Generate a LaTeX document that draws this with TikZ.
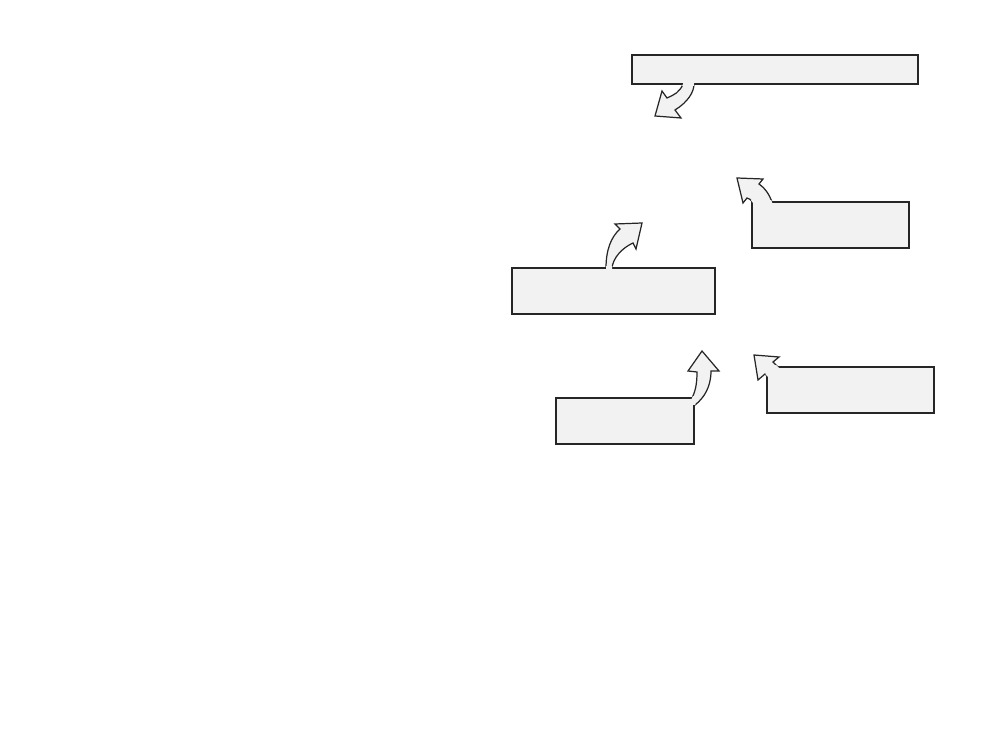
\documentclass[tikz,border=0pt]{standalone}
\usepackage{tikz}
\usetikzlibrary{positioning}

\tikzset{
  box/.style={draw=black!85, line width=0.7pt, fill=black!5, inner sep=0pt, minimum height=0.92cm},
  blkarrow/.style={draw=black!85, line width=0.7pt, fill=black!5, line join=miter},
  blkfill/.style={fill=black!5}
}

% outlines of the curved block arrows (pixel units)
\newcommand{\arrowTop}{(683,80) -- (683,84) .. controls (680,92) and (674,95) .. (667,98) -- (662,91) -- (655,116) -- (681,118) -- (675,110) .. controls (688,102) and (694,92) .. (694,84) -- (694,80) -- cycle}
\newcommand{\arrowMid}{(606,272) -- (606,268) .. controls (606,250) and (611,237) .. (620,229) -- (615,224) -- (642,223) -- (636,249) -- (633,243) .. controls (622,248) and (613,258) .. (612,268) -- (612,272) -- cycle}
\newcommand{\arrowRtop}{(772,206) -- (772,202) .. controls (769,194) and (765,188) .. (759,184) -- (763,179) -- (737,178) -- (743,203) -- (747,198) .. controls (749,198) and (751,200) .. (753,203) -- (753,206) -- cycle}
\newcommand{\arrowLow}{(690,402) -- (692,398) .. controls (696,390) and (697,382) .. (697,372) -- (688,371) -- (702,351) -- (719,371) -- (711,371) .. controls (711,387) and (704,398) .. (695,405) -- (690,405) -- cycle}
\newcommand{\arrowRlow}{(781,370) -- (773,362) -- (779,357) -- (754,355) -- (758,380) -- (765,374) -- (767,376) -- (769,378) -- cycle}

% fill an arrow again inside its box, so that both read as one outline
\newcommand{\joinarrow}[2]{%
  \begin{scope}
    \clip ([shift={(-0.4pt,-0.4pt)}]#1.south west) rectangle ([shift={(0.4pt,0.4pt)}]#1.north east);
    \fill[blkfill] #2;
  \end{scope}}

\begin{document}
\begin{tikzpicture}[x=0.02cm, y=-0.02cm]
  \useasboundingbox (0,0) rectangle (981,756);

  % arrows underneath
  \draw[blkarrow] \arrowTop;
  \draw[blkarrow] \arrowMid;
  \draw[blkarrow] \arrowRtop;
  \draw[blkarrow] \arrowLow;
  \draw[blkarrow] \arrowRlow;

  % boxes
  \node[box, minimum width=5.72cm, minimum height=0.58cm] (head) at (775,69.5) {};
  \node[box, minimum width=4.06cm] (mid) at (613.5,291) {};
  \node[box, minimum width=3.14cm] (rtop) at (830.5,225) {};
  \node[box, minimum width=2.76cm] (low) at (625,421) {};
  \node[box, minimum width=3.34cm] (rlow) at (850.5,390) {};

  % join arrows and boxes
  \joinarrow{head}{\arrowTop}
  \joinarrow{mid}{\arrowMid}
  \joinarrow{rtop}{\arrowRtop}
  \joinarrow{low}{\arrowLow}
  \joinarrow{rlow}{\arrowRlow}
\end{tikzpicture}
\end{document}
